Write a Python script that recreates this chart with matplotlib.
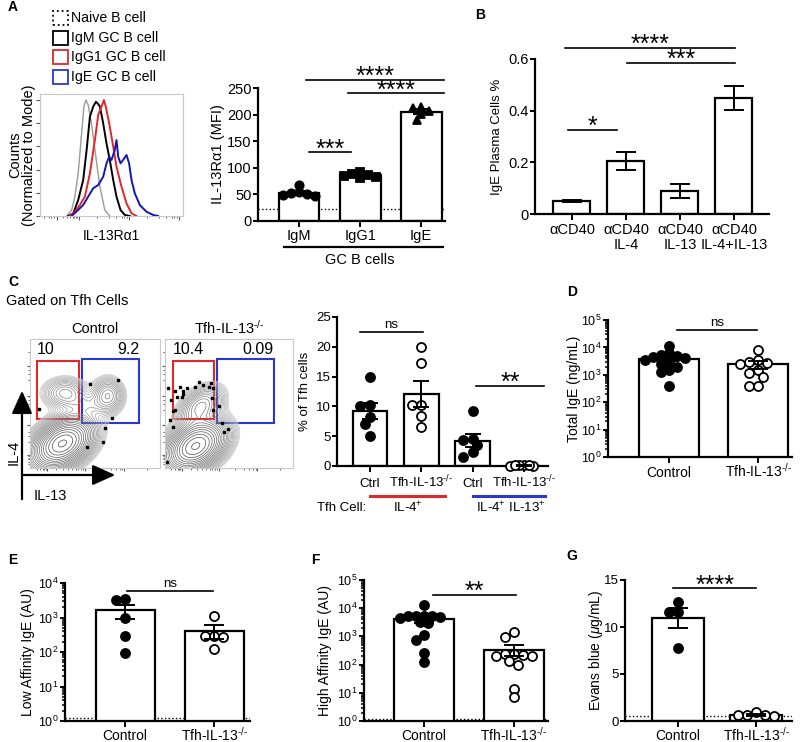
import numpy as np
import matplotlib.pyplot as plt
from matplotlib import ticker, transforms
from matplotlib.patches import Rectangle, FancyArrowPatch

plt.rcParams['font.family'] = ['Liberation Sans', 'DejaVu Sans']
plt.rcParams['mathtext.fontset'] = 'custom'
plt.rcParams['mathtext.rm'] = 'Liberation Sans'
plt.rcParams['mathtext.it'] = 'Liberation Sans:italic'
plt.rcParams['mathtext.bf'] = 'Liberation Sans:bold'

RED = '#e3262a'
BLUE = '#2838d0'
KO = 'Tfh-IL-13$^{\\text{-/-}}$'

# ---- panel A histograms (x = channel position 0-100, y = % of mode)
naive_x = [18.6, 22.1, 24.4, 26.7, 29.1, 30.7, 32.1, 33.7, 36.0, 38.4, 41.9, 45.3, 48.8]
naive_y = [0, 5.2, 16.7, 36.8, 71.3, 94.3, 100, 95.7, 79.9, 56.9, 25.3, 5.2, 0]
igm_x = [19.8, 23.3, 26.7, 30.2, 32.6, 34.9, 37.2, 39.1, 40.7, 41.9, 44.2, 46.5, 48.8,
         51.2, 53.5, 56.3, 59.3, 62.8]
igm_y = [0, 2.3, 13.8, 31.0, 56.9, 85.6, 94.3, 98.5, 96.5, 94.3, 79.9, 62.6, 48.3,
         31.0, 16.7, 5.2, 0.9, 0]
igg1_x = [20.9, 24.4, 27.9, 31.4, 34.9, 38.4, 40.7, 43.0, 44.7, 46.0, 48.4, 51.2, 53.5,
          57.0, 60.5, 64.0, 67.4]
igg1_y = [0, 3.7, 9.5, 16.7, 36.8, 65.5, 87.1, 94.3, 100, 94.3, 79.9, 59.8, 42.5,
          25.3, 10.9, 2.3, 0]
ige_x = [22.1, 26.7, 30.2, 33.7, 37.2, 40.7, 44.2, 46.5, 48.4, 50.0, 52.3, 53.5, 54.7,
         56.3, 58.1, 60.5, 62.3, 64.0, 66.3, 69.8, 74.4, 79.1, 82.6]
ige_y = [0, 5.2, 9.5, 16.7, 23.9, 26.7, 33.9, 45.4, 51.1, 48.3, 56.9, 65.5, 51.1,
         45.4, 48.3, 52.6, 45.4, 31.0, 19.5, 9.5, 3.7, 0.9, 0]
hist_names = ['Naive B cell', 'IgM GC B cell', 'IgG1 GC B cell', 'IgE GC B cell']

# ---- panel A bars: IL-13Ra1 MFI
gc_groups = ['IgM', 'IgG1', 'IgE']
igm_mfi = [68, 52, 47, 48, 50, 55]
igg1_mfi = [93, 88, 80, 82, 85, 86]
ige_mfi = [213, 215, 201, 190, 207]

# ---- panel B
stim_labels = ['αCD40', 'αCD40\nIL-4', 'αCD40\nIL-13', 'αCD40\nIL-4+IL-13']
ige_pc = [0.05, 0.205, 0.09, 0.45]
ige_pc_err = [0.005, 0.035, 0.028, 0.047]

# ---- panel C flow plots (positions as fraction of plot area)
ctrl_blobs = [  # cx, cy, sx, sy, weight, rho
    (0.25, 0.19, 0.13, 0.11, 1.0, 0.35),
    (0.27, 0.58, 0.10, 0.07, 0.20, 0.0),
    (0.60, 0.56, 0.07, 0.08, 0.25, 0.0),
    (0.43, 0.49, 0.09, 0.05, 0.07, 0.0),
]
ko_blobs = [
    (0.24, 0.17, 0.13, 0.11, 1.0, 0.35),
    (0.28, 0.48, 0.10, 0.09, 0.30, 0.4),
]
ctrl_dots_x = [0.07, 0.46, 0.68, 0.63, 0.58, 0.56, 0.44]
ctrl_dots_y = [0.46, 0.65, 0.68, 0.39, 0.31, 0.20, 0.16]
ko_dots_x = [0.026, 0.078, 0.117, 0.138, 0.169, 0.234, 0.268, 0.294, 0.346, 0.357, 0.372,
             0.044, 0.091, 0.130, 0.138, 0.065, 0.078, 0.039, 0.060, 0.367, 0.377, 0.424,
             0.443, 0.461, 0.495, 0.013]
ko_dots_y = [0.62, 0.60, 0.63, 0.60, 0.62, 0.63, 0.67, 0.64, 0.63, 0.66, 0.62,
             0.53, 0.55, 0.55, 0.57, 0.44, 0.45, 0.37, 0.32, 0.54, 0.45, 0.48,
             0.35, 0.28, 0.30, 0.05]
gate_il4 = [(0.054, 0.38, 0.323, 0.45), (0.062, 0.38, 0.321, 0.45)]
gate_dp = [(0.40, 0.35, 0.44, 0.495), (0.406, 0.35, 0.444, 0.495)]
gate_pct_il4 = ['10', '10.4']
gate_pct_dp = ['9.2', '0.09']

# ---- panel C bars: % of Tfh cells
tfh_labels = ['Ctrl', KO, 'Ctrl', KO]
il4_ctrl = [15.0, 10.0, 10.2, 8.3, 7.0, 5.0]
il4_ko = [19.9, 17.3, 10.2, 10.3, 8.4, 6.6]
dp_ctrl = [9.2, 4.6, 4.4, 3.5, 2.3, 1.5]
dp_ko = [0.05, 0.1, 0.1, 0.05, 0.1, 0.1]

# ---- panels D-G
mice = ['Control', KO]
total_ige_ctrl = [11500, 6000, 5500, 5000, 4500, 4000, 3500, 3000, 2500, 2000, 1500, 1300, 400]
total_ige_ko = [8000, 3500, 3000, 2800, 2500, 1500, 1200, 800, 400, 400]
low_aff_ctrl = [3400, 3200, 1000, 300, 95]
low_aff_ko = [1100, 290, 270, 300, 120]
high_aff_ctrl = [13000, 5500, 5300, 5000, 5300, 5500, 4500, 3000, 3200, 1100, 750, 260, 120]
high_aff_ko = [1450, 950, 230, 220, 200, 210, 240, 130, 100, 14, 7]
evans_ctrl = [12.7, 11.6, 11.6, 7.8]
evans_ko = [0.6, 0.5, 0.6, 0.6, 1.0]

W, H = 800, 742
fig = plt.figure(figsize=(8, 7.42), dpi=100)


def px_axes(x0, y0, x1, y1):
    return fig.add_axes([x0 / W, 1 - y1 / H, (x1 - x0) / W, (y1 - y0) / H])


def ftext(x, y, s, **kw):
    return fig.text(x / W, 1 - y / H, s, **kw)


def prism(ax, size=10):
    for s in ('top', 'right'):
        ax.spines[s].set_visible(False)
    for s in ('left', 'bottom'):
        ax.spines[s].set_linewidth(1.6)
    ax.tick_params(axis='x', width=1.4, length=4.5, labelsize=size, pad=2)
    ax.tick_params(axis='y', width=1.4, length=3.5, labelsize=size, pad=1)
    ax.tick_params(axis='y', which='minor', width=1.1, length=2.2)


def ylabel_at(ax, text, x_px, size=10):
    # centre the y label at a given pixel column
    x0 = ax.get_position().x0 * W
    w = ax.get_position().width * W
    ax.set_ylabel(text, fontsize=size, va='center')
    ax.yaxis.set_label_coords((x_px - x0) / w, 0.5)


def under_labels(ax, labels, size=10, drop=14.5):
    # category labels sitting on a common baseline below the axis
    ax.set_xticks(range(len(labels)))
    ax.set_xticklabels([])
    bt = transforms.blended_transform_factory(ax.transData, ax.transAxes)
    for i, lab in enumerate(labels):
        ax.annotate(lab, (i, 0), xycoords=bt, xytext=(0, -drop), textcoords='offset points',
                    ha='center', va='baseline', fontsize=size, annotation_clip=False)


def swarm(ax, xc, vals, diam, limit):
    # simple beeswarm in pixel space, squeezed to fit inside the bar
    disp = ax.transData.transform(np.column_stack([np.full(len(vals), xc), vals]))
    ys = disp[:, 1]
    placed = []
    dxs = np.zeros(len(vals))
    for i in np.argsort(-ys):
        k = 0
        found = None
        while found is None:
            cands = [0.0] if k == 0 else [-k * diam / 2, k * diam / 2]
            for dx in cands:
                if all((dx - px) ** 2 + (ys[i] - py) ** 2 >= (0.85 * diam) ** 2 for px, py in placed):
                    found = dx
                    break
            k += 1
        placed.append((found, ys[i]))
        dxs[i] = found
    if np.abs(dxs).max() > limit:
        dxs = dxs * limit / np.abs(dxs).max()
    inv = ax.transData.inverted()
    return inv.transform(np.column_stack([disp[:, 0] + dxs, ys]))[:, 0]


def dot_bars(ax, groups, markers, width, ms=6.5, diam=9, cap=6):
    bar_px = (ax.transData.transform((width, 1))[0] - ax.transData.transform((0, 1))[0])
    for i, (vals, (mk, filled)) in enumerate(zip(groups, markers)):
        vals = np.asarray(vals, float)
        m = vals.mean()
        se = vals.std(ddof=1) / np.sqrt(len(vals))
        ax.bar(i, m, width, color='white', edgecolor='black', linewidth=1.6, zorder=2)
        xs = swarm(ax, i, vals, diam, 0.4 * bar_px)
        ax.plot(xs, vals, ls='none', marker=mk, ms=ms, mfc='black' if filled else 'white',
                mec='black', mew=1.3, zorder=3, clip_on=False)
        ax.errorbar(i, m, yerr=se, color='black', lw=1.4, capsize=cap, capthick=1.4, zorder=4)


def sig(ax, x0, x1, y, label, size=None):
    ax.plot([x0, x1], [y, y], color='black', lw=1.2, clip_on=False)
    if '*' in label:
        size = size or 18
        ax.annotate(label, ((x0 + x1) / 2, y), xytext=(0, -0.17 * size), textcoords='offset points',
                    ha='center', va='baseline', fontsize=size, annotation_clip=False)
    else:
        size = size or 9.5
        ax.annotate(label, ((x0 + x1) / 2, y), xytext=(0, 0.5), textcoords='offset points',
                    ha='center', va='bottom', fontsize=size, annotation_clip=False)


def log_axis(ax, top):
    ax.set_yscale('log')
    ax.set_ylim(1, top)
    ax.yaxis.set_major_locator(ticker.LogLocator(base=10, numticks=10))
    ax.yaxis.set_minor_locator(ticker.LogLocator(base=10, subs=np.arange(2, 10), numticks=20))
    ax.yaxis.set_minor_formatter(ticker.NullFormatter())


# ---------------- panel letters
for letter, (x, y) in zip('ABCDEFG', [(13, 7), (480, 15), (13, 282), (572, 292),
                                       (13, 560), (315, 560), (572, 556)]):
    ftext(x, y, letter, fontsize=10, fontweight='bold', ha='center', va='center')

# ---------------- panel A histogram
axH = px_axes(40, 94, 183, 216)
axH.set_xlim(0, 100)
axH.set_ylim(0, 105.2)
for xs_, ys_, col, lw in [(naive_x, naive_y, '#9a9a9a', 1.0), (igm_x, igm_y, 'black', 1.4),
                          (igg1_x, igg1_y, RED, 1.4), (ige_x, ige_y, '#1515b5', 1.4)]:
    axH.plot(xs_, ys_, color=col, lw=lw)
for s in axH.spines.values():
    s.set_color('#c8c8c8')
    s.set_linewidth(0.8)
axH.set_yticks(np.arange(0, 101, 20))
axH.set_xticks([12, 27, 62, 97])
axH.xaxis.set_minor_locator(ticker.FixedLocator([3, 6, 8, 10, 16, 19, 21, 23, 24, 25, 26, 40, 48, 53, 57, 59, 61, 75, 83, 88, 92, 94, 96]))
axH.tick_params(labelleft=False, labelbottom=False, length=3, width=0.8, color='#555555')
axH.tick_params(which='minor', length=1.6, width=0.6, color='#555555')
axH.set_ylabel('Counts\n(Normalized to Mode)', fontsize=10.5, labelpad=0, linespacing=1.0)
axH.set_xlabel('IL-13Rα1', fontsize=10, labelpad=4)

leg_rows = [18, 38, 57, 77]
for (name, col, ls), yc in zip([(hist_names[0], 'black', ':'), (hist_names[1], 'black', '-'),
                                (hist_names[2], RED, '-'), (hist_names[3], BLUE, '-')], leg_rows):
    fig.patches.append(Rectangle((53 / W, 1 - (yc + 7) / H), 15 / W, 14 / H, fill=False,
                                 ec=col, ls=ls, lw=1.3, transform=fig.transFigure))
    ftext(71, yc, name, fontsize=10.2, va='center', ha='left')

# ---------------- panel A bars
axA = px_axes(258, 88, 445, 221)
axA.set_xlim(-0.672, 2.39)
axA.set_ylim(0, 250)
prism(axA, 10.5)
axA.set_yticks(range(0, 251, 50))
under_labels(axA, gc_groups, size=10.5, drop=13.5)
axA.axhline(22, ls=':', color='black', lw=1, zorder=1)
dot_bars(axA, [igm_mfi, igg1_mfi, ige_mfi], [('o', True), ('s', True), ('^', True)], 0.67,
         ms=6, diam=8, cap=6)
ylabel_at(axA, 'IL-13Rα1 (MFI)', 218, 10.5)
sig(axA, 0.16, 0.85, 129, '***')
sig(axA, 0.11, 2.38, 265, '****')
sig(axA, 0.80, 2.38, 240, '****')
bt = transforms.blended_transform_factory(axA.transData, axA.transAxes)
axA.plot([-0.25, 2.35], [-0.195, -0.195], color='black', lw=1.6, transform=bt, clip_on=False)
axA.text(1, -0.29, 'GC B cells', transform=bt, ha='center', va='center', fontsize=10.5)

# ---------------- panel B
axB = px_axes(535, 59, 769, 214)
axB.set_xlim(-0.685, 3.65)
axB.set_ylim(0, 0.6)
prism(axB, 10.5)
axB.bar(range(4), ige_pc, 0.685, color='white', edgecolor='black', linewidth=1.6, zorder=2)
axB.errorbar(range(4), ige_pc, yerr=ige_pc_err, fmt='none', ecolor='black', elinewidth=1.4,
             capsize=7, capthick=1.4, zorder=3)
axB.set_yticks([0, 0.2, 0.4, 0.6])
axB.set_yticklabels(['0', '0.2', '0.4', '0.6'])
axB.set_xticks(range(4))
axB.set_xticklabels(stim_labels, linespacing=1.05)
ylabel_at(axB, 'IgE Plasma Cells %', 497, 9.5)
sig(axB, -0.07, 0.83, 0.325, '*')
sig(axB, 1.02, 3.02, 0.585, '***')
sig(axB, -0.13, 3.02, 0.643, '****')

# ---------------- panel C flow plots
ftext(6, 301, 'Gated on Tfh Cells', fontsize=10.5, va='center', ha='left')
gx, gy = np.meshgrid(np.linspace(0, 1, 220), np.linspace(0, 1, 220))
for k, ((x0, x1), blobs, dx_, dy_, title) in enumerate([
        ((30, 160), ctrl_blobs, ctrl_dots_x, ctrl_dots_y, 'Control'),
        ((165, 293), ko_blobs, ko_dots_x, ko_dots_y, KO)]):
    ax = px_axes(x0, 339, x1, 468)
    ax.set_xlim(0, 1)
    ax.set_ylim(0, 1)
    z = np.zeros_like(gx)
    for cx, cy, sx, sy, wgt, rho in blobs:
        u = (gx - cx) / sx
        v = (gy - cy) / sy
        z += wgt * np.exp(-(u * u - 2 * rho * u * v + v * v) / (2 * (1 - rho ** 2)))
    levels = z.max() * np.geomspace(0.03, 0.97, 24)
    ax.contour(gx, gy, z, levels=levels, colors=plt.cm.Greys(np.linspace(0.32, 0.78, 24)),
               linewidths=0.5)
    ax.plot(dx_, dy_, ls='none', marker='s', ms=1.6, color='black')
    gx0, gy0, gw, gh = gate_il4[k]
    ax.add_patch(Rectangle((gx0, gy0), gw, gh, fill=False, ec=RED, lw=1.5))
    gx0, gy0, gw, gh = gate_dp[k]
    ax.add_patch(Rectangle((gx0, gy0), gw, gh, fill=False, ec=BLUE, lw=1.5))
    ax.text(gate_il4[k][0], 0.915, gate_pct_il4[k], fontsize=11.5, ha='left', va='center')
    ax.text(gate_dp[k][0] + gate_dp[k][2], 0.915, gate_pct_dp[k], fontsize=11.5, ha='right', va='center')
    for s in ax.spines.values():
        s.set_color('#c8c8c8')
        s.set_linewidth(0.8)
    ax.set_xticks([0.13, 0.42, 0.72])
    ax.set_yticks([0.1, 0.33, 0.56, 0.79])
    ax.xaxis.set_minor_locator(ticker.FixedLocator([0.05, 0.08, 0.1, 0.11, 0.12, 0.2, 0.25, 0.29, 0.32, 0.35, 0.37, 0.39, 0.41, 0.55, 0.62, 0.66, 0.69, 0.71, 0.9]))
    ax.yaxis.set_minor_locator(ticker.FixedLocator([0.03, 0.05, 0.07, 0.08, 0.09, 0.2, 0.25, 0.28, 0.45, 0.5, 0.53, 0.68, 0.73, 0.76, 0.9]))
    ax.tick_params(labelleft=False, labelbottom=False, length=2.5, width=0.8, color='#555555')
    ax.tick_params(which='minor', length=1.4, width=0.6, color='#555555')
    ax.set_title(title, fontsize=10.5, pad=4)

fig.patches.append(FancyArrowPatch((22 / W, 1 - 502 / H), (22 / W, 1 - 388 / H),
                                   transform=fig.transFigure, arrowstyle='-|>,head_length=1.0,head_width=0.45',
                                   mutation_scale=14, lw=1.6, color='black'))
fig.patches.append(FancyArrowPatch((20 / W, 1 - 475 / H), (118 / W, 1 - 475 / H),
                                   transform=fig.transFigure, arrowstyle='-|>,head_length=1.0,head_width=0.45',
                                   mutation_scale=14, lw=1.6, color='black'))
ftext(14, 452, 'IL-4', rotation=90, fontsize=10.5, ha='center', va='center')
ftext(50, 496, 'IL-13', fontsize=10.5, ha='center', va='center')

# ---------------- panel C bars
axC = px_axes(337, 317, 548, 466)
axC.set_xlim(-0.643, 3.47)
axC.set_ylim(0, 25)
prism(axC, 9.5)
axC.set_yticks(range(0, 26, 5))
under_labels(axC, tfh_labels, size=9.5, drop=15)
dot_bars(axC, [il4_ctrl, il4_ko, dp_ctrl, dp_ko], [('o', True), ('o', False), ('o', True), ('o', False)],
         0.68, ms=6.5, diam=9.5, cap=6)
ylabel_at(axC, '% of Tfh cells', 305, 9.5)
sig(axC, -0.19, 1.03, 22.5, 'ns')
sig(axC, 2.07, 3.4, 13.5, '**')
bt = transforms.blended_transform_factory(axC.transData, axC.transAxes)
axC.plot([0, 1.46], [-0.2, -0.2], color=RED, lw=2.2, transform=bt, clip_on=False)
axC.plot([2, 3.42], [-0.2, -0.2], color=BLUE, lw=2.2, transform=bt, clip_on=False)
axC.text(-0.55, -0.28, 'Tfh Cell:', transform=bt, ha='center', va='center', fontsize=9.5)
axC.text(0.74, -0.28, 'IL-4$^{+}$', transform=bt, ha='center', va='center', fontsize=9.5)
axC.text(2.75, -0.28, 'IL-4$^{+}$ IL-13$^{+}$', transform=bt, ha='center', va='center', fontsize=9.5)

# ---------------- panel D
axD = px_axes(608, 320, 792, 457)
axD.set_xlim(-0.685, 1.38)
log_axis(axD, 1e5)
prism(axD, 9)
under_labels(axD, mice)
dot_bars(axD, [total_ige_ctrl, total_ige_ko], [('o', True), ('o', False)], 0.67, ms=6.5, diam=9, cap=7)
ylabel_at(axD, 'Total IgE (ng/mL)', 574)
sig(axD, 0.09, 0.99, 45000, 'ns')

# ---------------- panel E
axE = px_axes(65, 583, 250, 721)
axE.set_xlim(-0.674, 1.40)
log_axis(axE, 1e4)
prism(axE, 9)
under_labels(axE, mice, drop=14)
axE.axhline(1.2, ls=':', color='black', lw=1, zorder=1)
dot_bars(axE, [low_aff_ctrl, low_aff_ko], [('o', True), ('o', False)], 0.66, ms=6.5, diam=9, cap=7)
ylabel_at(axE, 'Low Affinity IgE (AU)', 28)
sig(axE, 0.02, 0.99, 5900, 'ns')

# ---------------- panel F
axF = px_axes(364, 580, 548, 721)
axF.set_xlim(-0.667, 1.38)
log_axis(axF, 1e5)
prism(axF, 9)
under_labels(axF, mice, drop=14)
axF.axhline(1.2, ls=':', color='black', lw=1, zorder=1)
dot_bars(axF, [high_aff_ctrl, high_aff_ko], [('o', True), ('o', False)], 0.67, ms=6.5, diam=9, cap=7)
ylabel_at(axF, 'High Affinity IgE (AU)', 325)
sig(axF, 0.1, 1.02, 29500, '**')

# ---------------- panel G
axG = px_axes(625, 580, 792, 721)
axG.set_xlim(-0.68, 1.46)
axG.set_ylim(0, 15)
prism(axG, 9.5)
axG.set_yticks([0, 5, 10, 15])
under_labels(axG, mice, drop=14)
axG.axhline(0.5, ls=':', color='black', lw=1, zorder=1)
dot_bars(axG, [evans_ctrl, evans_ko], [('o', True), ('o', False)], 0.67, ms=6.5, diam=9, cap=7)
ylabel_at(axG, 'Evans blue ($\\mu$g/mL)', 596)
sig(axG, -0.06, 1.0, 14.1, '****')

fig.savefig('out.png', dpi=100)
